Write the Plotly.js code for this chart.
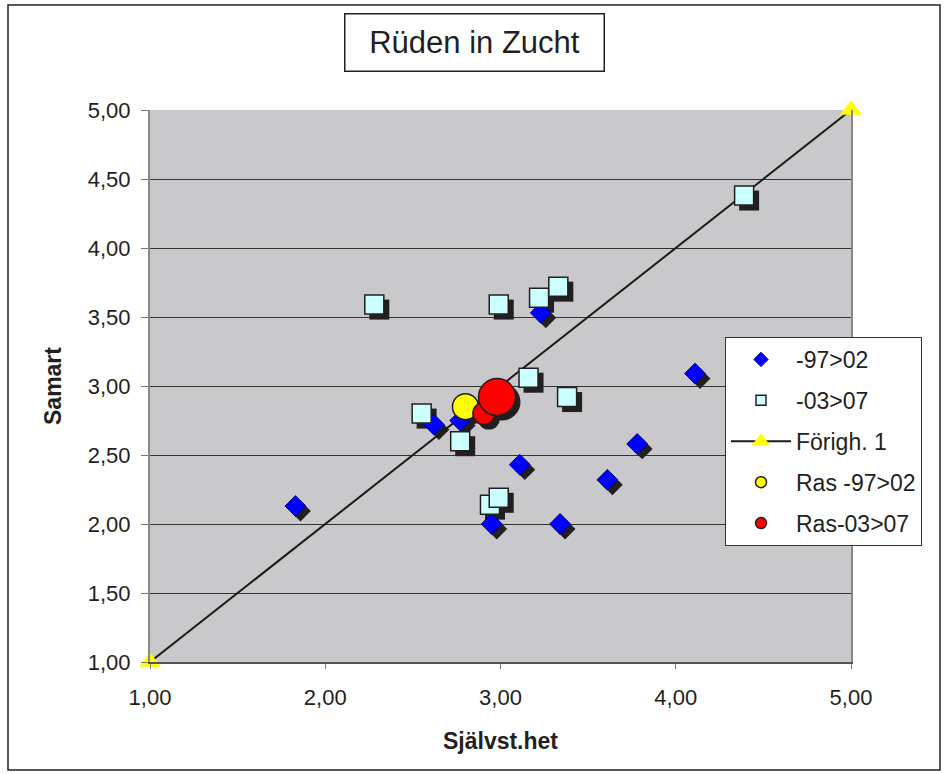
<!DOCTYPE html>
<html>
<head>
<meta charset="utf-8">
<script src="https://cdn.plot.ly/plotly-3.0.1.min.js"></script>
<style>html,body{margin:0;padding:0;background:#fff;}#chart{width:949px;height:774px;}</style>
</head>
<body>
<div id="chart"></div>
<script>
// ---- data ----
const seriesNames = ["-97>02", "-03>07", "Förigh. 1", "Ras -97>02", "Ras-03>07"];
const x9702 = [1.83, 2.62, 2.77, 3.23, 3.11, 2.95, 3.34, 3.61, 3.78, 4.11];
const y9702 = [2.13, 2.72, 2.75, 3.53, 2.43, 2.00, 2.00, 2.32, 2.58, 3.09];
const x0307 = [2.28, 2.99, 3.22, 3.33, 3.16, 3.38, 2.55, 2.77, 2.94, 2.99, 4.39];
const y0307 = [3.59, 3.59, 3.64, 3.72, 3.06, 2.92, 2.80, 2.60, 2.14, 2.19, 4.38];
const xRef = [1, 5];
const yRef = [1, 5];
const xRas9702 = [2.80];
const yRas9702 = [2.85];
const xRas0307 = [2.905, 2.98];
const yRas0307 = [2.80, 2.92];
const chartTitle = "Rüden in Zucht";
const xTitle = "Självst.het";
const yTitle = "Samart";

// ---- layout constants ----
const W = 949, H = 774;
const M = {l: 150, r: 98, t: 110, b: 112};
const plotW = W - M.l - M.r, plotH = H - M.t - M.b;
const xRange = [1, 5], yRange = [1, 5];
const SH = 5; // shadow offset in px
const dxS = SH * (xRange[1] - xRange[0]) / plotW;
const dyS = SH * (yRange[1] - yRange[0]) / plotH;
const FONT = '"Liberation Sans", Arial, sans-serif';
const SHADOW = '#231f20';
const redSizes = [22, 37];

const traces = [];
// shadows (base axes, shifted range)
traces.push({x: x9702, y: y9702, xaxis: 'x', yaxis: 'y', type: 'scatter', mode: 'markers', showlegend: false, hoverinfo: 'skip',
  marker: {symbol: 'diamond', size: 16, color: SHADOW, opacity: 1, line: {width: 0}}});
traces.push({x: x0307, y: y0307, xaxis: 'x', yaxis: 'y', type: 'scatter', mode: 'markers', showlegend: false, hoverinfo: 'skip',
  marker: {symbol: 'square', size: 20, color: SHADOW, opacity: 1, line: {width: 0}}});
traces.push({x: xRas9702, y: yRas9702, xaxis: 'x', yaxis: 'y', type: 'scatter', mode: 'markers', showlegend: false, hoverinfo: 'skip',
  marker: {symbol: 'circle', size: 26, color: SHADOW, opacity: 1, line: {width: 0}}});
traces.push({x: xRas0307, y: yRas0307, xaxis: 'x', yaxis: 'y', type: 'scatter', mode: 'markers', showlegend: false, hoverinfo: 'skip',
  marker: {symbol: 'circle', size: redSizes, color: SHADOW, opacity: 1, line: {width: 0}}});

// real marks (overlay axes)
traces.push({x: xRef, y: yRef, xaxis: 'x2', yaxis: 'y2', type: 'scatter', mode: 'lines+markers', showlegend: false, cliponaxis: false,
  line: {color: '#1a1a1a', width: 2}, marker: {symbol: 'triangle-up', size: 19, color: '#ffff00', opacity: 1, line: {width: 0}}});
traces.push({x: x9702, y: y9702, xaxis: 'x2', yaxis: 'y2', type: 'scatter', mode: 'markers', showlegend: false,
  marker: {symbol: 'diamond', size: 16, color: '#0000ff', opacity: 1, line: {color: '#000080', width: 1}}});
traces.push({x: x0307, y: y0307, xaxis: 'x2', yaxis: 'y2', type: 'scatter', mode: 'markers', showlegend: false,
  marker: {symbol: 'square', size: 19, color: '#ccffff', opacity: 1, line: {color: '#231f20', width: 1.5}}});
traces.push({x: xRas9702, y: yRas9702, xaxis: 'x2', yaxis: 'y2', type: 'scatter', mode: 'markers', showlegend: false,
  marker: {symbol: 'circle', size: 26, color: '#ffff00', opacity: 1, line: {color: '#231f20', width: 1.5}}});
traces.push({x: xRas0307, y: yRas0307, xaxis: 'x2', yaxis: 'y2', type: 'scatter', mode: 'markers', showlegend: false,
  marker: {symbol: 'circle', size: redSizes, color: '#ff0000', opacity: 1, line: {color: '#231f20', width: 1.5}}});

// legend entries
const legendStyles = [
  {mode: 'markers', marker: {symbol: 'diamond', size: 11, color: '#0000ff', line: {color: '#000080', width: 1}}},
  {mode: 'markers', marker: {symbol: 'square', size: 10, color: '#ccffff', line: {color: '#231f20', width: 1.5}}},
  {mode: 'lines+markers', line: {color: '#1a1a1a', width: 2}, marker: {symbol: 'triangle-up', size: 19, color: '#ffff00', line: {width: 0}}},
  {mode: 'markers', marker: {symbol: 'circle', size: 11, color: '#ffff00', line: {color: '#231f20', width: 1.5}}},
  {mode: 'markers', marker: {symbol: 'circle', size: 11, color: '#ff0000', line: {color: '#231f20', width: 1.5}}}
];
seriesNames.forEach((n, i) => {
  traces.push(Object.assign({x: [null], y: [null], xaxis: 'x2', yaxis: 'y2', type: 'scatter', name: n,
    legendgroup: 'g' + i, showlegend: true, hoverinfo: 'skip'}, legendStyles[i]));
});

const layout = {
  width: W, height: H,
  margin: M,
  paper_bgcolor: '#ffffff',
  plot_bgcolor: '#c9c9cb',
  separators: ', ',
  font: {family: FONT, size: 22, color: '#231f20'},
  showlegend: true,
  xaxis: {range: [xRange[0] - dxS, xRange[1] - dxS], visible: false, fixedrange: true},
  yaxis: {range: [yRange[0] + dyS, yRange[1] + dyS], visible: false, fixedrange: true},
  xaxis2: {
    overlaying: 'x', anchor: 'y2', side: 'bottom', range: xRange, dtick: 1, tick0: 1, tickformat: '.2f',
    showgrid: false, zeroline: false, showline: true, linecolor: '#555', linewidth: 1.5, mirror: false,
    ticks: 'outside', ticklen: 5, tickcolor: '#777', ticklabelstandoff: 10,
    tickfont: {family: FONT, size: 22, color: '#231f20'},
    title: {text: xTitle, font: {family: FONT, size: 23, color: '#231f20', weight: 'bold'}, standoff: 24},
    automargin: false
  },
  yaxis2: {
    overlaying: 'y', anchor: 'x2', side: 'left', range: yRange, dtick: 0.5, tick0: 1, tickformat: '.2f',
    showgrid: true, gridcolor: '#333333', gridwidth: 1, zeroline: false,
    showline: true, linecolor: '#888', linewidth: 2, mirror: true,
    ticks: 'outside', ticklen: 7, tickcolor: '#777', ticklabelstandoff: 6,
    tickfont: {family: FONT, size: 22, color: '#231f20'},
    title: {text: yTitle, font: {family: FONT, size: 23, color: '#231f20', weight: 'bold'}, standoff: 20},
    automargin: false
  },
  legend: {
    x: (725 - M.l) / plotW, y: (H - M.b - 337) / plotH, xanchor: 'left', yanchor: 'top',
    bgcolor: '#ffffff', bordercolor: '#333333', borderwidth: 1,
    font: {family: FONT, size: 23, color: '#231f20'},
    traceorder: 'grouped', tracegroupgap: 8, itemwidth: 60
  },
  annotations: [{
    text: chartTitle, xref: 'paper', yref: 'paper',
    x: (474 - M.l) / plotW, y: (H - M.b - 42.5) / plotH, xanchor: 'center', yanchor: 'middle',
    showarrow: false, font: {family: FONT, size: 31, color: '#231f20'},
    bordercolor: '#231f20', borderwidth: 1.5, borderpad: 0, bgcolor: '#ffffff', width: 258, height: 56
  }],
  shapes: [{
    type: 'rect', xref: 'paper', yref: 'paper', layer: 'above',
    x0: (8 - M.l) / plotW, x1: (940 - M.l) / plotW,
    y0: (H - M.b - 770) / plotH, y1: (H - M.b - 5) / plotH,
    line: {color: '#231f20', width: 1.5}, fillcolor: 'rgba(0,0,0,0)'
  }]
};

Plotly.newPlot('chart', traces, layout, {staticPlot: true, displayModeBar: false});
</script>
</body>
</html>
